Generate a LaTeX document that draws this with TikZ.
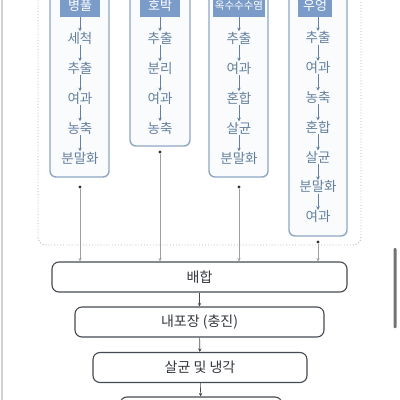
\documentclass[tikz,border=0pt]{standalone}
\usepackage{fontspec}
\setmainfont{Noto Sans CJK KR}
\usepackage{xcolor}
\usetikzlibrary{arrows.meta,positioning,calc}

\definecolor{headblue}{HTML}{7B9CC9}
\definecolor{frameblue}{HTML}{8FA7C2}
\definecolor{itemtext}{HTML}{64809E}
\definecolor{procline}{HTML}{454A51}
\definecolor{proctext}{HTML}{33383E}

\begin{document}
\begin{tikzpicture}[
  x=1pt, y=-1pt,
  colframe/.style = {draw=frameblue, line width=1.4pt, rounded corners=6pt, fill=frameblue!5},
  head/.style     = {fill=headblue, text=white, minimum width=40pt, minimum height=22pt,
                     inner sep=0pt, font=\fontsize{13}{13}\selectfont},
  item/.style     = {text=itemtext, inner sep=0.5pt, font=\fontsize{13.5}{13.5}\selectfont},
  flow/.style     = {-{Stealth[length=3.5pt,width=3.5pt]}, draw=itemtext, line width=0.7pt},
  procbox/.style  = {draw=procline, line width=1.1pt, rounded corners=7pt, fill=white,
                     minimum height=30pt, text=proctext, font=\fontsize{14}{14}\selectfont},
  feed/.style     = {-{Stealth[length=3.5pt,width=3.5pt]}, draw=gray!75, line width=0.7pt},
  link/.style     = {-{Stealth[length=3.5pt,width=3.5pt]}, draw=procline, line width=0.6pt},
  dot/.style      = {circle, fill=black!80, inner sep=0pt, minimum size=3.2pt}
]
  \useasboundingbox (0,0) rectangle (400,400);

  % screen edges
  \fill[black!18] (0.5,0) rectangle (2.5,400);
  \fill[black!55, rounded corners=1pt] (393.5,248) rectangle (396.5,328);

  % dotted group round the four columns
  \draw[gray!60, dotted, line width=0.9pt, rounded corners=8pt] (38,-20) rectangle (361,245);

  % column frames
  \draw[colframe] (50,-20)  rectangle (109,177);
  \draw[colframe] (130,-20) rectangle (190,146);
  \draw[colframe] (209,-20) rectangle (268,177);
  \draw[colframe] (289,-20) rectangle (347,236);

  % headers
  \node[head] (h1) at (80,6)  {병풀};
  \node[head] (h2) at (160,6) {호박};
  \node[head, minimum width=52pt, font=\fontsize{10.5}{10.5}\selectfont] (h3) at (239,6) {옥수수수염};
  \node[head, minimum width=34pt] (h4) at (315,6) {우엉};

  % column items
  \foreach \t [count=\i] in {세척,추출,여과,농축,분말화}
    \node[item] (a\i) at (80,8+30*\i) {\t};
  \foreach \t [count=\i] in {추출,분리,여과,농축}
    \node[item] (b\i) at (160,8+30*\i) {\t};
  \foreach \t [count=\i] in {추출,여과,혼합,살균,분말화}
    \node[item] (c\i) at (239,8+30*\i) {\t};
  \foreach \t [count=\i] in {추출,여과,농축,혼합,살균,분말화,여과}
    \node[item] (e\i) at (318,8+29.8*\i) {\t};

  \draw[flow] (h1) -- (a1);
  \draw[flow] (h2) -- (b1);
  \draw[flow] (h3) -- (c1);
  \draw[flow] (h4.south -| e1) -- (e1);
  \foreach \a/\b in {a1/a2,a2/a3,a3/a4,a4/a5,b1/b2,b2/b3,b3/b4,
                     c1/c2,c2/c3,c3/c4,c4/c5,
                     e1/e2,e2/e3,e3/e4,e4/e5,e5/e6,e6/e7}
    \draw[flow] (\a) -- (\b);

  % process steps
  \node[procbox, minimum width=295pt] (mix)   at (199.5,277) {배합};
  \node[procbox, minimum width=249pt] (pack)  at (199.5,322) {내포장 (충진)};
  \node[procbox, minimum width=214pt] (ster)  at (200,367.5) {살균 및 냉각};
  \node[procbox, minimum width=162pt] (next)  at (201,412) {};

  % column outputs
  \node[dot] (d1) at (80,187)  {};
  \node[dot] (d2) at (160,152) {};
  \node[dot] (d3) at (239,187) {};
  \node[dot] (d4) at (318,242) {};
  \foreach \d in {d1,d2,d3,d4}
    \draw[feed] (\d) -- (\d |- mix.north);

  \draw[link] (mix)  -- (pack);
  \draw[link] (pack) -- (ster);
  \draw[link] (ster) -- (next);
\end{tikzpicture}
\end{document}
